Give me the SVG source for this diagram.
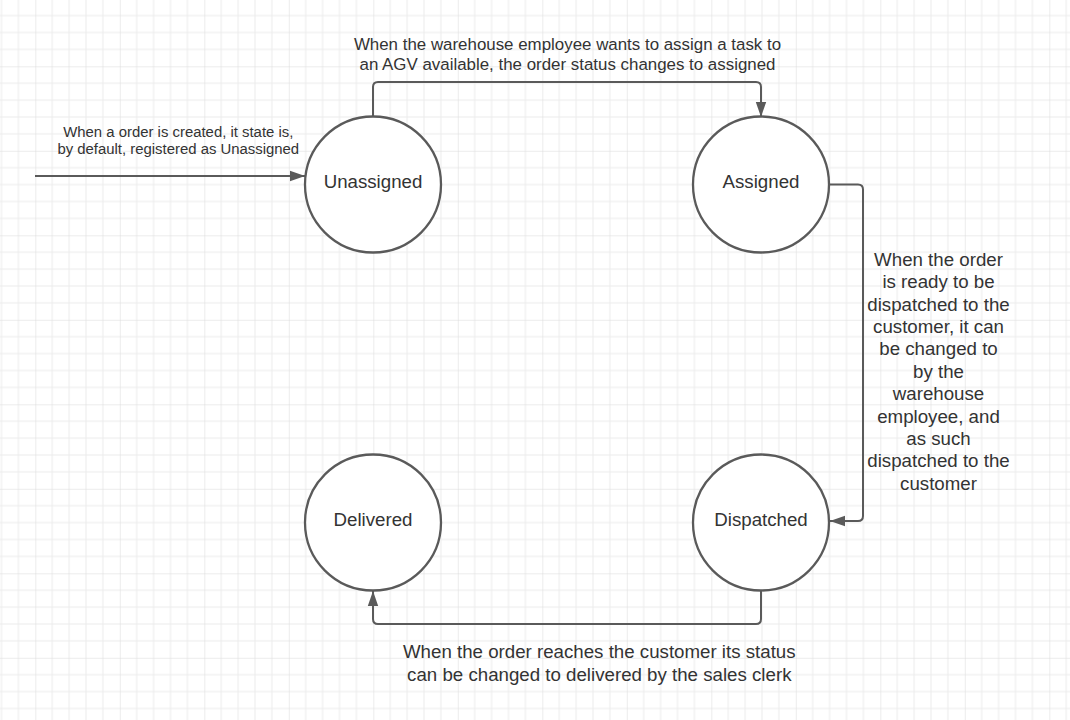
<svg xmlns="http://www.w3.org/2000/svg" width="1070" height="720" viewBox="0 0 1070 720">
  <defs>
    <pattern id="grid" patternUnits="userSpaceOnUse" x="35.3" y="66.3" width="84.5" height="84.5">
      <path d="M16.9,0V84.5M33.8,0V84.5M50.7,0V84.5M67.6,0V84.5M0,16.9H84.5M0,33.8H84.5M0,50.7H84.5M0,67.6H84.5" stroke="#ebebeb" stroke-width="1" fill="none"/>
      <path d="M0,0V84.5M0,0H84.5" stroke="#dadada" stroke-width="1" fill="none"/>
    </pattern>
    <marker id="arrow" markerUnits="userSpaceOnUse" markerWidth="18" markerHeight="12" refX="15" refY="6" orient="auto">
      <path d="M0,0.8 L15,6 L0,11.2 Z" fill="#5a5a5a"/>
    </marker>
    <style>
      .node circle { fill: #ffffff; stroke: #5a5a5a; stroke-width: 2.3; }
      .node text { font-family: "Liberation Sans", Arial, sans-serif; font-size: 18.7px; fill: #333333; text-anchor: middle; }
      .conn path { fill: none; stroke: #5a5a5a; stroke-width: 2; marker-end: url(#arrow); }
      .lbl { font-family: "Liberation Sans", Arial, sans-serif; fill: #333333; text-anchor: middle; }
    </style>
  </defs>
  <rect width="1070" height="720" fill="#ffffff"/>
  <rect width="1070" height="720" fill="url(#grid)"/>

  <g id="connectors" class="conn">
    <path d="M35,176 H305"/>
    <path d="M373,116 V87 Q373,82 378,82 H756 Q761,82 761,87 V117"/>
    <path d="M829,184.5 H858 Q863,184.5 863,189.5 V516 Q863,521 858,521 H830"/>
    <path d="M761,590 V619 Q761,624 756,624 H378 Q373,624 373,619 V591"/>
  </g>

  <g id="labels">
    <text class="lbl" font-size="14.9" x="178.3" y="136.7">When a order is created, it state is,</text>
    <text class="lbl" font-size="14.9" x="178.3" y="153.5">by default, registered as Unassigned</text>
    <text class="lbl" font-size="16.9" x="567.5" y="49.7">When the warehouse employee wants to assign a task to</text>
    <text class="lbl" font-size="16.9" x="567.5" y="69.7">an AGV available, the order status changes to assigned</text>
    <g class="lbl" font-size="18.7">
      <text x="938.5" y="265.7">When the order</text>
      <text x="938.5" y="288.1">is ready to be</text>
      <text x="938.5" y="310.5">dispatched to the</text>
      <text x="938.5" y="332.9">customer, it can</text>
      <text x="938.5" y="355.3">be changed to</text>
      <text x="938.5" y="377.7">by the</text>
      <text x="938.5" y="400.1">warehouse</text>
      <text x="938.5" y="422.5">employee, and</text>
      <text x="938.5" y="444.9">as such</text>
      <text x="938.5" y="467.3">dispatched to the</text>
      <text x="938.5" y="489.7">customer</text>
    </g>
    <text class="lbl" font-size="18.7" x="599.3" y="658.3">When the order reaches the customer its status</text>
    <text class="lbl" font-size="18.7" x="599.3" y="681">can be changed to delivered by the sales clerk</text>
  </g>

  <g id="node-unassigned" class="node">
    <circle cx="373" cy="184.5" r="68"/>
    <text x="373" y="188">Unassigned</text>
  </g>
  <g id="node-assigned" class="node">
    <circle cx="761" cy="184.5" r="68"/>
    <text x="761" y="188">Assigned</text>
  </g>
  <g id="node-delivered" class="node">
    <circle cx="373" cy="522.5" r="68"/>
    <text x="373" y="526">Delivered</text>
  </g>
  <g id="node-dispatched" class="node">
    <circle cx="761" cy="522.5" r="68"/>
    <text x="761" y="526">Dispatched</text>
  </g>
</svg>
